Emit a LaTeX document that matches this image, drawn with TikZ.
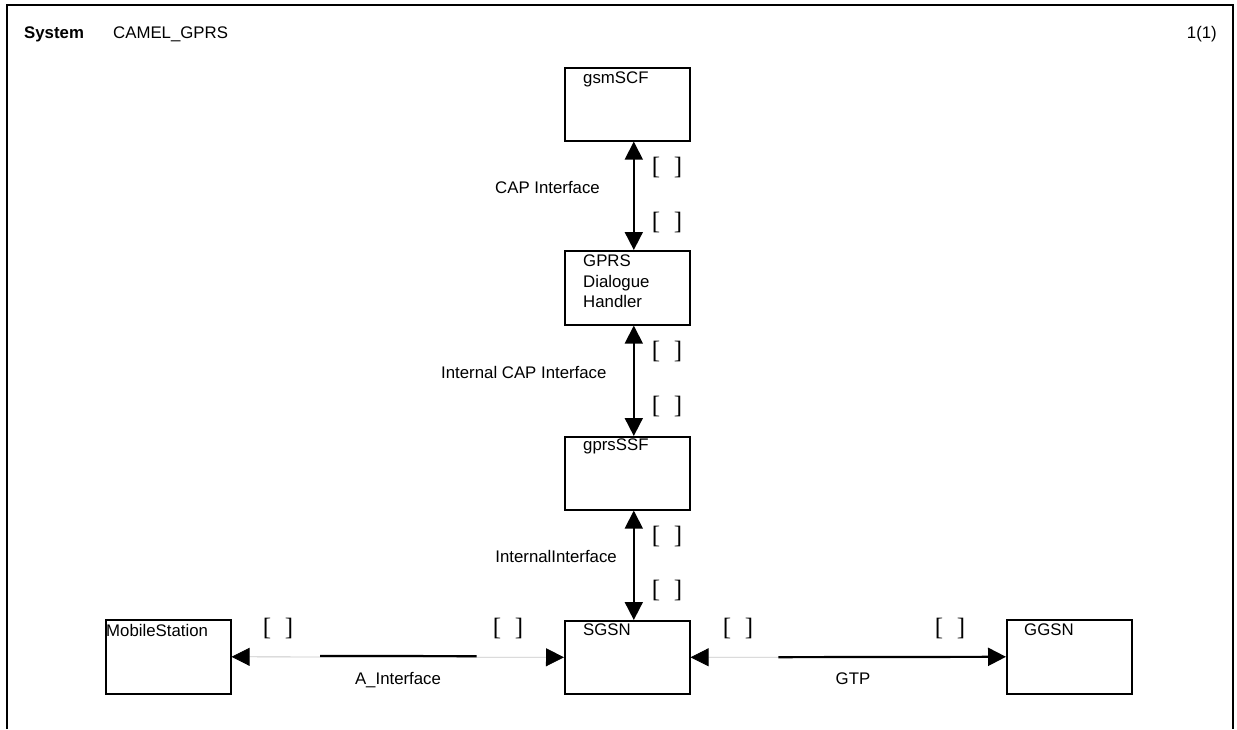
\documentclass[tikz,border=0pt]{standalone}
\usepackage{fontspec}
\setmainfont{Liberation Sans}
\newfontfamily\brfont{Liberation Serif}
\newcommand\bracketfont{\brfont\fontsize{25}{25}\selectfont\spaceskip=0.55em\relax}
\usetikzlibrary{arrows.meta,calc}

\begin{document}
\begin{tikzpicture}[x=1pt,y=-1pt,
  every node/.style={font=\fontsize{16.8}{20.5}\selectfont},
  blk/.style={draw, line width=1.6pt, minimum width=125pt, inner sep=0pt, anchor=north west},
  btxt/.style={inner sep=0pt, anchor=north west, align=left},
  tipA/.tip={Triangle[length=18pt,width=18pt,color=black]},
  link/.style={line width=1.8pt, tipA-tipA},
  faint/.style={line width=0.8pt, draw=black!22},
  bar/.style={line width=2.2pt},
  brk/.style={inner sep=0pt, font=\bracketfont},
  iflbl/.style={inner sep=0pt}
]
\useasboundingbox (0,0) rectangle (1237,729);

% page frame, open at the bottom
\coordinate (fbl) at (7,729);
\coordinate (ftl) at (7,5);
\coordinate (ftr) at (1233,5);
\coordinate (fbr) at (1233,729);
\draw[line width=1.6pt] (fbl) -- (ftl) -- (ftr) -- (fbr);

% heading
\node[iflbl, anchor=base west, font=\bfseries\fontsize{16.8}{20.5}\selectfont] (hsys) at (24,38) {System};
\node[iflbl, anchor=base west] (hname) at (113,38) {CAMEL\_GPRS};
\node[iflbl, anchor=base east] (hpage) at (1217,38) {1(1)};

% blocks
\node[blk, minimum height=73pt] (gsm)  at (564,67)  {};
\node[blk, minimum height=74pt] (dh)   at (564,250) {};
\node[blk, minimum height=73pt] (ssf)  at (564,436) {};
\node[blk, minimum height=73pt] (sgsn) at (564,620) {};
\node[blk, minimum height=74pt] (ms)   at (105,619) {};
\node[blk, minimum height=74pt] (ggsn) at (1006,619) {};

\node[btxt] (gsmT)  at ([xshift=19pt,yshift=-5pt]gsm.north west)  {gsmSCF};
\node[btxt] (dhT)   at ([xshift=19pt,yshift=-5pt]dh.north west)   {GPRS\\Dialogue\\Handler};
\node[btxt] (ssfT)  at ([xshift=19pt,yshift=-3pt]ssf.north west)  {gprsSSF};
\node[btxt] (sgsnT) at ([xshift=19pt,yshift=-4pt]sgsn.north west) {SGSN};
\node[btxt] (msT)   at ([xshift=1pt,yshift=-5pt]ms.north west)    {MobileStation};
\node[btxt] (ggsnT) at ([xshift=18pt,yshift=-5pt]ggsn.north west) {GGSN};

% vertical channels
\draw[link] ([xshift=6.5pt]gsm.south) -- ([xshift=6.5pt]dh.north);
\draw[link] ([xshift=6.5pt]dh.south)  -- ([xshift=6.5pt]ssf.north);
\draw[link] ([xshift=6.5pt]ssf.south) -- ([xshift=6.5pt]sgsn.north);

\node[iflbl, anchor=base east] (capL)  at (600,193) {CAP Interface};
\node[iflbl, anchor=base west] (icapL) at (441,378) {Internal CAP Interface};
\node[iflbl, anchor=base east] (intL)  at (617,562) {InternalInterface};

\node[brk] (b1) at (667,167) {[ ]};
\node[brk] (b2) at (667,222) {[ ]};
\node[brk] (b3) at (667,351) {[ ]};
\node[brk] (b4) at (667,406) {[ ]};
\node[brk] (b5) at (667,536) {[ ]};
\node[brk] (b6) at (667,590) {[ ]};

% horizontal channels
\draw[faint, tipA-tipA] (ms.east) -- (sgsn.west);
\coordinate (a1) at ($(ms.east)!0.266!(sgsn.west)$);
\coordinate (a2) at ($(ms.east)!0.737!(sgsn.west)$);
\draw[bar] ([yshift=1pt]a1) -- ([yshift=1pt]a2);

\coordinate (g1) at ($(sgsn.east)!0.278!(ggsn.west)$);
\draw[faint, tipA-] (sgsn.east) -- (g1);
\draw[bar, -tipA] (g1) -- (ggsn.west);

\node[iflbl, anchor=base] (aL) at (398,684) {A\_Interface};
\node[iflbl, anchor=base] (gL) at (853,684) {GTP};

\node[brk] (b7)  at (278,628) {[ ]};
\node[brk] (b8)  at (508,628) {[ ]};
\node[brk] (b9)  at (738,628) {[ ]};
\node[brk] (b10) at (950,628) {[ ]};
\end{tikzpicture}
\end{document}
